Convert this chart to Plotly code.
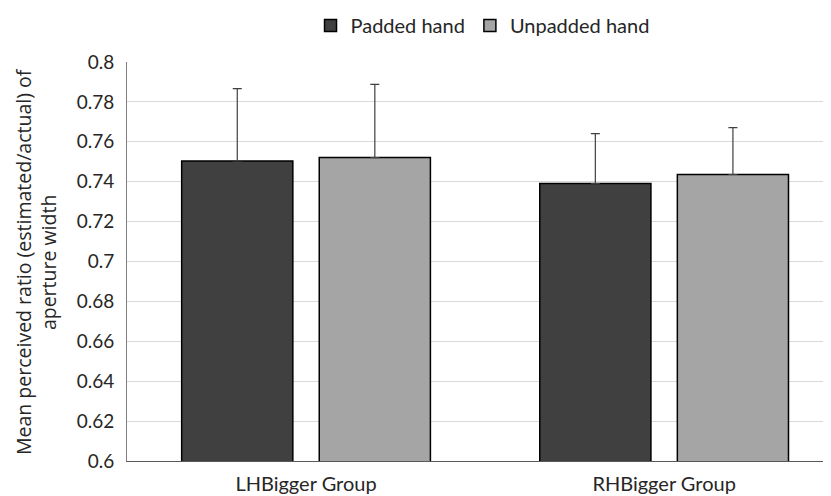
import plotly.graph_objects as go

groups = ["LHBigger Group", "RHBigger Group"]
padded = [0.7504, 0.7391]
padded_err = [0.0363, 0.0250]
unpadded = [0.7521, 0.7436]
unpadded_err = [0.0367, 0.0235]

fig = go.Figure()
fig.add_trace(go.Bar(
    name="Padded hand", x=groups, y=padded,
    marker=dict(color="#404040", line=dict(color="#000000", width=1.5)),
    error_y=dict(type="data", array=padded_err, arrayminus=[0, 0], symmetric=False,
                 color="#404040", thickness=1.2, width=4.5),
))
fig.add_trace(go.Bar(
    name="Unpadded hand", x=groups, y=unpadded,
    marker=dict(color="#A5A5A5", line=dict(color="#000000", width=1.5)),
    error_y=dict(type="data", array=unpadded_err, arrayminus=[0, 0], symmetric=False,
                 color="#404040", thickness=1.2, width=4.5),
))

fig.update_layout(
    width=823, height=488,
    margin=dict(l=119, r=0, t=54, b=35, pad=0, autoexpand=False),
    paper_bgcolor="white", plot_bgcolor="white",
    barmode="group", bargap=0.2316, bargroupgap=0.192,
    font=dict(family="Lato, Open Sans, sans-serif", color="#262626", size=19),
    legend=dict(orientation="h", x=0.505, xanchor="center", y=1.0915, yanchor="middle",
                font=dict(size=20, family="Lato"), traceorder="normal",
                bgcolor="rgba(0,0,0,0)"),
    xaxis=dict(range=[-0.5, 1.466], showgrid=False, showline=True,
               linecolor="#595959", linewidth=1, ticks="", automargin=False,
               tickfont=dict(size=20, family="Lato"), ticklabelstandoff=5),
    yaxis=dict(range=[0.6, 0.8], dtick=0.02, tick0=0.6, showgrid=True,
               gridcolor="#D9D9D9", gridwidth=1, showline=True, automargin=False,
               linecolor="#7F7F7F", linewidth=1, ticks="", zeroline=False,
               tickfont=dict(size=19, family="Lato"), ticklabelstandoff=8),
    annotations=[dict(
        text="Mean perceived ratio (estimated/actual) of<br>aperture width",
        textangle=-90, xref="paper", yref="paper",
        x=(27.5 - 119) / 704, y=0.5, xanchor="center", yanchor="middle",
        showarrow=False, font=dict(size=19.5, family="Open Sans", color="#262626"),
    )],
)

fig.write_html("out.html")
